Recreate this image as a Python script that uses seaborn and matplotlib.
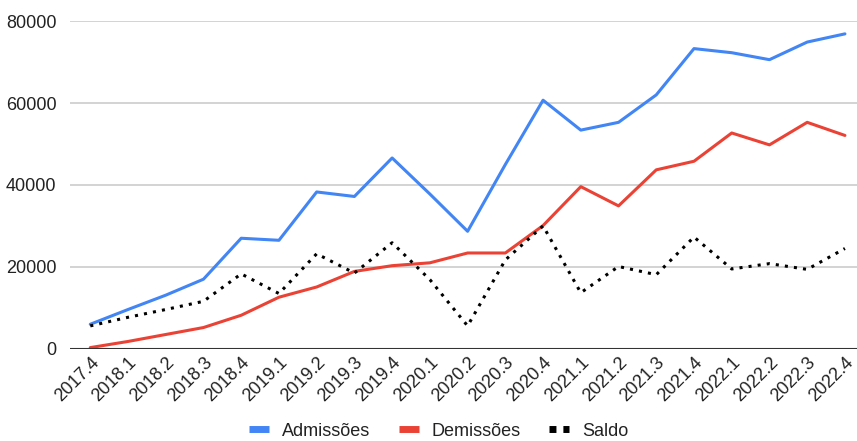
import numpy as np
import pandas as pd
import matplotlib
matplotlib.use("Agg")
import matplotlib.pyplot as plt
from matplotlib.lines import Line2D
import seaborn as sns

quarters = ["2017.4", "2018.1", "2018.2", "2018.3", "2018.4", "2019.1", "2019.2",
            "2019.3", "2019.4", "2020.1", "2020.2", "2020.3", "2020.4", "2021.1",
            "2021.2", "2021.3", "2021.4", "2022.1", "2022.2", "2022.3", "2022.4"]
admissoes = [6000, 9600, 13100, 17000, 27000, 26500, 38300, 37200, 46600, 37800,
             28700, 45000, 60700, 53400, 55300, 62000, 73300, 72300, 70600, 74900, 76900]
demissoes = [300, 1800, 3500, 5200, 8200, 12600, 15100, 18900, 20300, 21000,
             23400, 23400, 30100, 39600, 34900, 43700, 45800, 52700, 49800, 55300, 52100]
saldo = [5600, 7700, 9600, 11600, 18300, 13500, 23200, 18500, 25900, 16900,
         5600, 21700, 30000, 13700, 20100, 18100, 27300, 19500, 20800, 19400, 24500]

blue = "#4285f4"
red = "#ea4335"

sns.set_style("white")
plt.rcParams["font.family"] = ["Liberation Sans", "DejaVu Sans"]

fig = plt.figure(figsize=(8.57, 4.41), dpi=100)
ax = fig.add_axes([0.082, 0.209, 0.918, 0.743])

sns.lineplot(x=quarters, y=admissoes, ax=ax, color=blue, lw=2.2, sort=False)
sns.lineplot(x=quarters, y=demissoes, ax=ax, color=red, lw=2.2, sort=False)
sns.lineplot(x=quarters, y=saldo, ax=ax, color="black", lw=2.2, sort=False,
             linestyle=(0, (1, 2)))

ax.set_ylim(0, 80000)
ax.set_xlim(-0.53, 20.32)
ax.set_yticks([0, 20000, 40000, 60000, 80000])
ax.yaxis.grid(True, color="#cccccc", lw=1.2)
ax.set_axisbelow(True)
ax.axhline(0, color="#333333", lw=1.5, zorder=3)
for s in ax.spines.values():
    s.set_visible(False)
ax.tick_params(length=0, labelsize=13, colors="#222222")
ax.tick_params(axis="y", pad=10)
plt.setp(ax.get_xticklabels(), rotation=45, ha="right", rotation_mode="anchor")
ax.set_xlabel("")
ax.set_ylabel("")

handles = [Line2D([], [], color=blue, lw=5, solid_capstyle="butt"),
           Line2D([], [], color=red, lw=5, solid_capstyle="butt"),
           Line2D([], [], color="black", lw=5, linestyle=(0, (1, 1)))]
fig.legend(handles, ["Admissões", "Demissões", "Saldo"], loc="center",
           bbox_to_anchor=(0.512, 0.022), ncol=3, frameon=False, fontsize=13,
           handlelength=1.1, columnspacing=1.6, handletextpad=0.7,
           labelcolor="#222222")

fig.savefig("out.png", dpi=100)
